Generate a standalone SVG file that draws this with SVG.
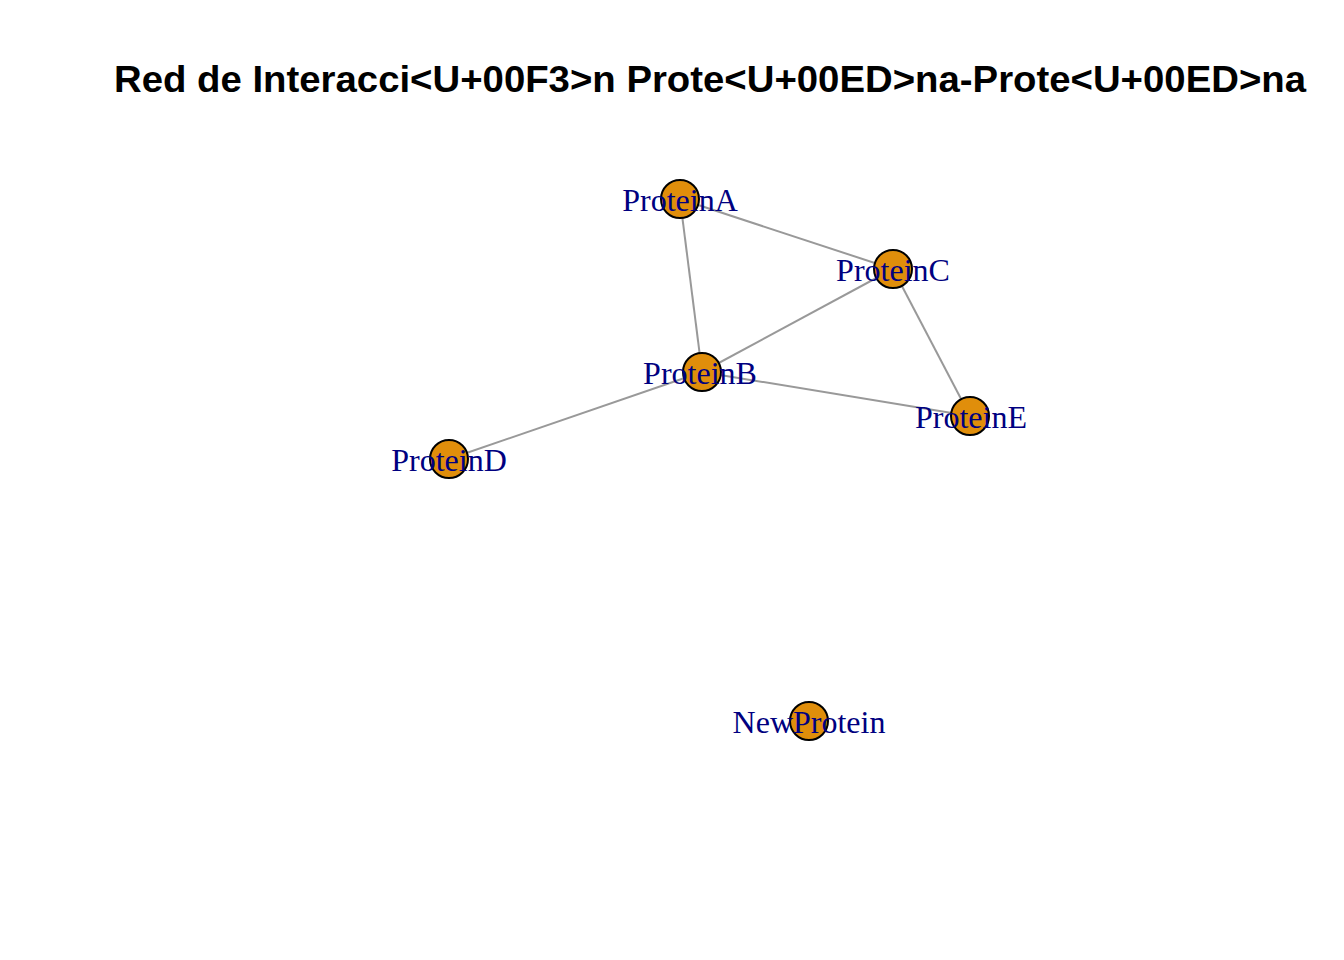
<svg xmlns="http://www.w3.org/2000/svg" width="1344" height="960" viewBox="0 0 1344 960">
<style>
.edge{stroke:#999999;stroke-width:2;fill:none}
.node circle{fill:#E08E0B;stroke:#000000;stroke-width:2}
.node text{font-family:"Liberation Serif","Times New Roman",serif;font-size:32px;fill:#000080;text-anchor:middle}
.title{font-family:"Liberation Sans",Arial,sans-serif;font-weight:bold;font-size:36px;fill:#000000;text-anchor:middle}
</style>
<rect width="1344" height="960" fill="#ffffff"/>
<text class="title" x="710" y="92" textLength="1192" lengthAdjust="spacingAndGlyphs">Red de Interacci&lt;U+00F3&gt;n Prote&lt;U+00ED&gt;na-Prote&lt;U+00ED&gt;na</text>
<g id="edges">
<line class="edge" x1="680" y1="199" x2="893" y2="269"/>
<line class="edge" x1="680" y1="199" x2="702" y2="372"/>
<line class="edge" x1="893" y1="269" x2="702" y2="372"/>
<line class="edge" x1="893" y1="269" x2="970" y2="416"/>
<line class="edge" x1="702" y1="372" x2="970" y2="416"/>
<line class="edge" x1="702" y1="372" x2="449" y2="459"/>
</g>
<g id="ProteinA" class="node"><circle cx="680" cy="199" r="19"/><text x="680" y="211">ProteinA</text></g>
<g id="ProteinC" class="node"><circle cx="893" cy="269" r="19"/><text x="893" y="281">ProteinC</text></g>
<g id="ProteinB" class="node"><circle cx="702" cy="372" r="19"/><text x="700" y="384">ProteinB</text></g>
<g id="ProteinE" class="node"><circle cx="970" cy="416" r="19"/><text x="971" y="428">ProteinE</text></g>
<g id="ProteinD" class="node"><circle cx="449" cy="459" r="19"/><text x="449" y="471">ProteinD</text></g>
<g id="NewProtein" class="node"><circle cx="809" cy="721" r="19"/><text x="809" y="733">NewProtein</text></g>
</svg>
